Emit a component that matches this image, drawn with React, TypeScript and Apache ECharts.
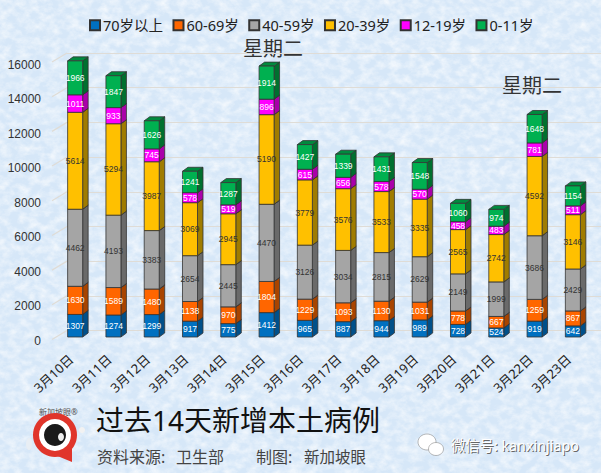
import React, { useEffect, useRef } from "react";
import * as echarts from "echarts";

const categories = ["3月10日","3月11日","3月12日","3月13日","3月14日","3月15日","3月16日","3月17日","3月18日","3月19日","3月20日","3月21日","3月22日","3月23日"];
const age70 = [1307,1274,1299,917,775,1412,965,887,944,989,728,524,919,642];
const age60 = [1630,1589,1480,1138,970,1804,1229,1093,1130,1031,778,667,1259,867];
const age40 = [4462,4193,3383,2654,2445,4470,3126,3034,2815,2629,2149,1999,3686,2429];
const age20 = [5614,5294,3987,3069,2945,5190,3779,3576,3533,3335,2565,2742,4592,3146];
const age12 = [1011,933,745,578,519,896,615,656,578,570,458,483,781,511];
const age0 = [1966,1847,1626,1241,1287,1914,1427,1339,1431,1548,1060,974,1648,1154];
const wallTicks = [0,2000,4000,6000,8000,10000,12000,14000,16000];

const groups = [
  { name: "70岁以上", values: age70, front: "#0070c0", side: "#00508a", top: "#005a9c", text: "#ffffff" },
  { name: "60-69岁", values: age60, front: "#ff6600", side: "#a84400", top: "#c85000", text: "#ffffff" },
  { name: "40-59岁", values: age40, front: "#a5a5a5", side: "#6a6a6a", top: "#808080", text: "#333333" },
  { name: "20-39岁", values: age20, front: "#ffc000", side: "#a07c00", top: "#c89600", text: "#333333" },
  { name: "12-19岁", values: age12, front: "#ff00ff", side: "#aa00aa", top: "#c800c8", text: "#ffffff" },
  { name: "0-11岁", values: age0, front: "#00b050", side: "#00702f", top: "#008a3e", text: "#ffffff" },
];

const CJK = '"Noto Sans","Noto Sans CJK SC",sans-serif';
const texture = "data:image/svg+xml," + encodeURIComponent(
  `<svg xmlns='http://www.w3.org/2000/svg' width='601' height='473'><filter id='n' x='0' y='0' width='100%' height='100%'><feTurbulence type='fractalNoise' baseFrequency='0.1 0.13' numOctaves='4' seed='7'/><feColorMatrix values='0 0 0 0 1  0 0 0 0 1  0 0 0 0 1  1.3 0 0 0 -0.45'/></filter><rect width='601' height='473' filter='url(#n)'/></svg>`
);

function barRenderer(g: any) {
  return (_p: any, api: any) => {
    const a = api.coord([api.value(0), api.value(1)]);
    const b = api.coord([api.value(0), api.value(2)]);
    const w = api.size([1, 0])[0] * 0.392;
    const dx = 5.5, dy = 4;
    const x0 = a[0] - w / 2, x1 = a[0] + w / 2, yb = a[1], yt = b[1];
    const edge = { stroke: "#333333", lineWidth: 0.8 };
    return {
      type: "group",
      children: [
        { type: "polygon", shape: { points: [[x1, yb], [x1 + dx, yb - dy], [x1 + dx, yt - dy], [x1, yt]] }, style: { fill: g.side, ...edge } },
        { type: "polygon", shape: { points: [[x0, yt], [x0 + dx, yt - dy], [x1 + dx, yt - dy], [x1, yt]] }, style: { fill: g.top, ...edge } },
        { type: "rect", shape: { x: x0, y: yt, width: w, height: yb - yt }, style: { fill: g.front, ...edge } },
        { type: "text", style: { text: String(api.value(3)), x: a[0], y: (yb + yt) / 2, fill: g.text, align: "center", verticalAlign: "middle", font: '8.5px "Liberation Sans",sans-serif' } },
      ],
    };
  };
}

export default function App() {
  const ref = useRef<HTMLDivElement>(null);
  useEffect(() => {
    document.body.style.margin = "0";
    const chart = echarts.init(ref.current!, null, { renderer: "svg" });
    const totals = categories.map(() => 0);
    const series: any[] = groups.map((g) => ({
      type: "custom",
      name: g.name,
      coordinateSystem: "cartesian2d",
      xAxisIndex: 0,
      yAxisIndex: 0,
      clip: false,
      itemStyle: { color: g.front, borderColor: "#333333", borderWidth: 0.8 },
      encode: { x: 0, y: [1, 2] },
      renderItem: barRenderer(g),
      data: g.values.map((v, i) => {
        const s = totals[i];
        totals[i] += v;
        return [i, s, totals[i], v];
      }),
    }));
    series.unshift({
      type: "custom",
      name: "wall",
      coordinateSystem: "cartesian2d",
      xAxisIndex: 1,
      yAxisIndex: 1,
      clip: false,
      silent: true,
      encode: { x: 0, y: 1 },
      renderItem: (_p: any, api: any) => {
        const c = api.coord([0, api.value(1)]);
        return { type: "line", shape: { x1: c[0], y1: c[1], x2: c[0] - 15, y2: c[1] + 9 }, style: { stroke: "#dfdcd6", lineWidth: 1.2 } };
      },
      data: wallTicks.map((v) => [0, v]),
    });
    chart.setOption({
      animation: false,
      backgroundColor: "transparent",
      textStyle: { fontFamily: CJK },
      legend: {
        data: groups.map((g) => g.name),
        left: 84,
        top: 13,
        itemWidth: 10,
        itemHeight: 10,
        itemGap: 9.4,
        icon: "rect",
        textStyle: { fontSize: 14.5, color: "#222222", fontFamily: CJK, padding: [0, 0, 0, -2] },
      },
      grid: [
        { left: 56, width: 536, top: 60.7, height: 276.3 },
        { left: 67, width: 534, top: 53, height: 277.5 },
        { left: 52, width: 536, top: 64.5, height: 276.5 },
      ],
      xAxis: [
        { type: "category", gridIndex: 0, data: categories, show: false },
        { type: "value", gridIndex: 1, min: 0, max: 1, show: false },
        {
          type: "category",
          gridIndex: 2,
          data: categories,
          axisLine: { show: false },
          axisTick: { show: false },
          axisLabel: { rotate: 43, margin: 16, fontSize: 13, color: "#222222", interval: 0, fontFamily: CJK },
        },
      ],
      yAxis: [
        { type: "value", gridIndex: 0, min: 0, max: 16000, interval: 2000, show: false },
        {
          type: "value",
          gridIndex: 1,
          min: 0,
          max: 16000,
          interval: 2000,
          axisLine: { show: false },
          axisTick: { show: false },
          axisLabel: { show: false },
          splitLine: { show: true, lineStyle: { color: "#dfdcd6", width: 1.2 } },
        },
        {
          type: "value",
          gridIndex: 2,
          min: 0,
          max: 16000,
          interval: 2000,
          axisLine: { show: false },
          axisTick: { show: false },
          splitLine: { show: false },
          axisLabel: { margin: 11, fontSize: 12, color: "#333333", fontFamily: '"Liberation Sans",sans-serif', formatter: (v: number) => String(v) },
        },
      ],
      series,
      graphic: [
        { type: "text", style: { text: "星期二", x: 243, y: 39, fill: "#333333", font: `20px ${CJK}` } },
        { type: "text", style: { text: "星期二", x: 502, y: 76, fill: "#333333", font: `20px ${CJK}` } },
        { type: "text", style: { text: "过去14天新增本土病例", x: 96, y: 406, fill: "#111111", font: `28px ${CJK}` } },
        { type: "text", style: { text: "资料来源:", x: 97, y: 449, fill: "#444444", font: `16px ${CJK}` } },
        { type: "text", style: { text: "卫生部", x: 176, y: 449, fill: "#444444", font: `16px ${CJK}` } },
        { type: "text", style: { text: "制图:", x: 256, y: 449, fill: "#444444", font: `16px ${CJK}` } },
        { type: "text", style: { text: "新加坡眼", x: 304, y: 449, fill: "#444444", font: `15.5px ${CJK}` } },
        { type: "text", style: { text: "新加坡眼®", x: 39, y: 408, fill: "#555555", font: `8px ${CJK}` } },
        { type: "ellipse", shape: { cx: 82, cy: 430, rx: 3, ry: 3 }, style: { fill: "#f2f2f2" } },
        { type: "ellipse", shape: { cx: 29, cy: 444, rx: 3, ry: 6 }, style: { fill: "#e8eef4" } },
        { type: "polygon", shape: { points: [[55, 455], [72, 445], [72, 462]] }, style: { fill: "#e0352b" } },
        { type: "circle", shape: { cx: 55, cy: 435, r: 22 }, style: { fill: "#e0352b" } },
        { type: "circle", shape: { cx: 55, cy: 435, r: 16 }, style: { fill: "#ffffff" } },
        { type: "circle", shape: { cx: 55, cy: 435, r: 11 }, style: { fill: "#1a1a1a" } },
        { type: "ellipse", shape: { cx: 61, cy: 437, rx: 3, ry: 4 }, style: { fill: "#eeeeee" } },
        { type: "ellipse", shape: { cx: 427, cy: 442, rx: 9, ry: 8 }, style: { fill: "#ffffff", stroke: "#8a8a8a", lineWidth: 0.6 } },
        { type: "ellipse", shape: { cx: 436, cy: 449, rx: 7.5, ry: 6.5 }, style: { fill: "#ffffff", stroke: "#8a8a8a", lineWidth: 0.6 } },
        { type: "text", style: { text: "微信号: kanxinjiapo", x: 452, y: 439, fill: "#666666", font: `14.3px ${CJK}` } },
        { type: "text", style: { text: "微信号: kanxinjiapo", x: 451, y: 438, fill: "#ffffff", font: `14.3px ${CJK}` } },
      ],
    });
    return () => chart.dispose();
  }, []);
  return (
    <div
      ref={ref}
      style={{
        position: "absolute",
        left: 0,
        top: 0,
        width: 601,
        height: 473,
        backgroundColor: "#d6e7f8",
        backgroundImage: `url("${texture}")`,
      }}
    />
  );
}
